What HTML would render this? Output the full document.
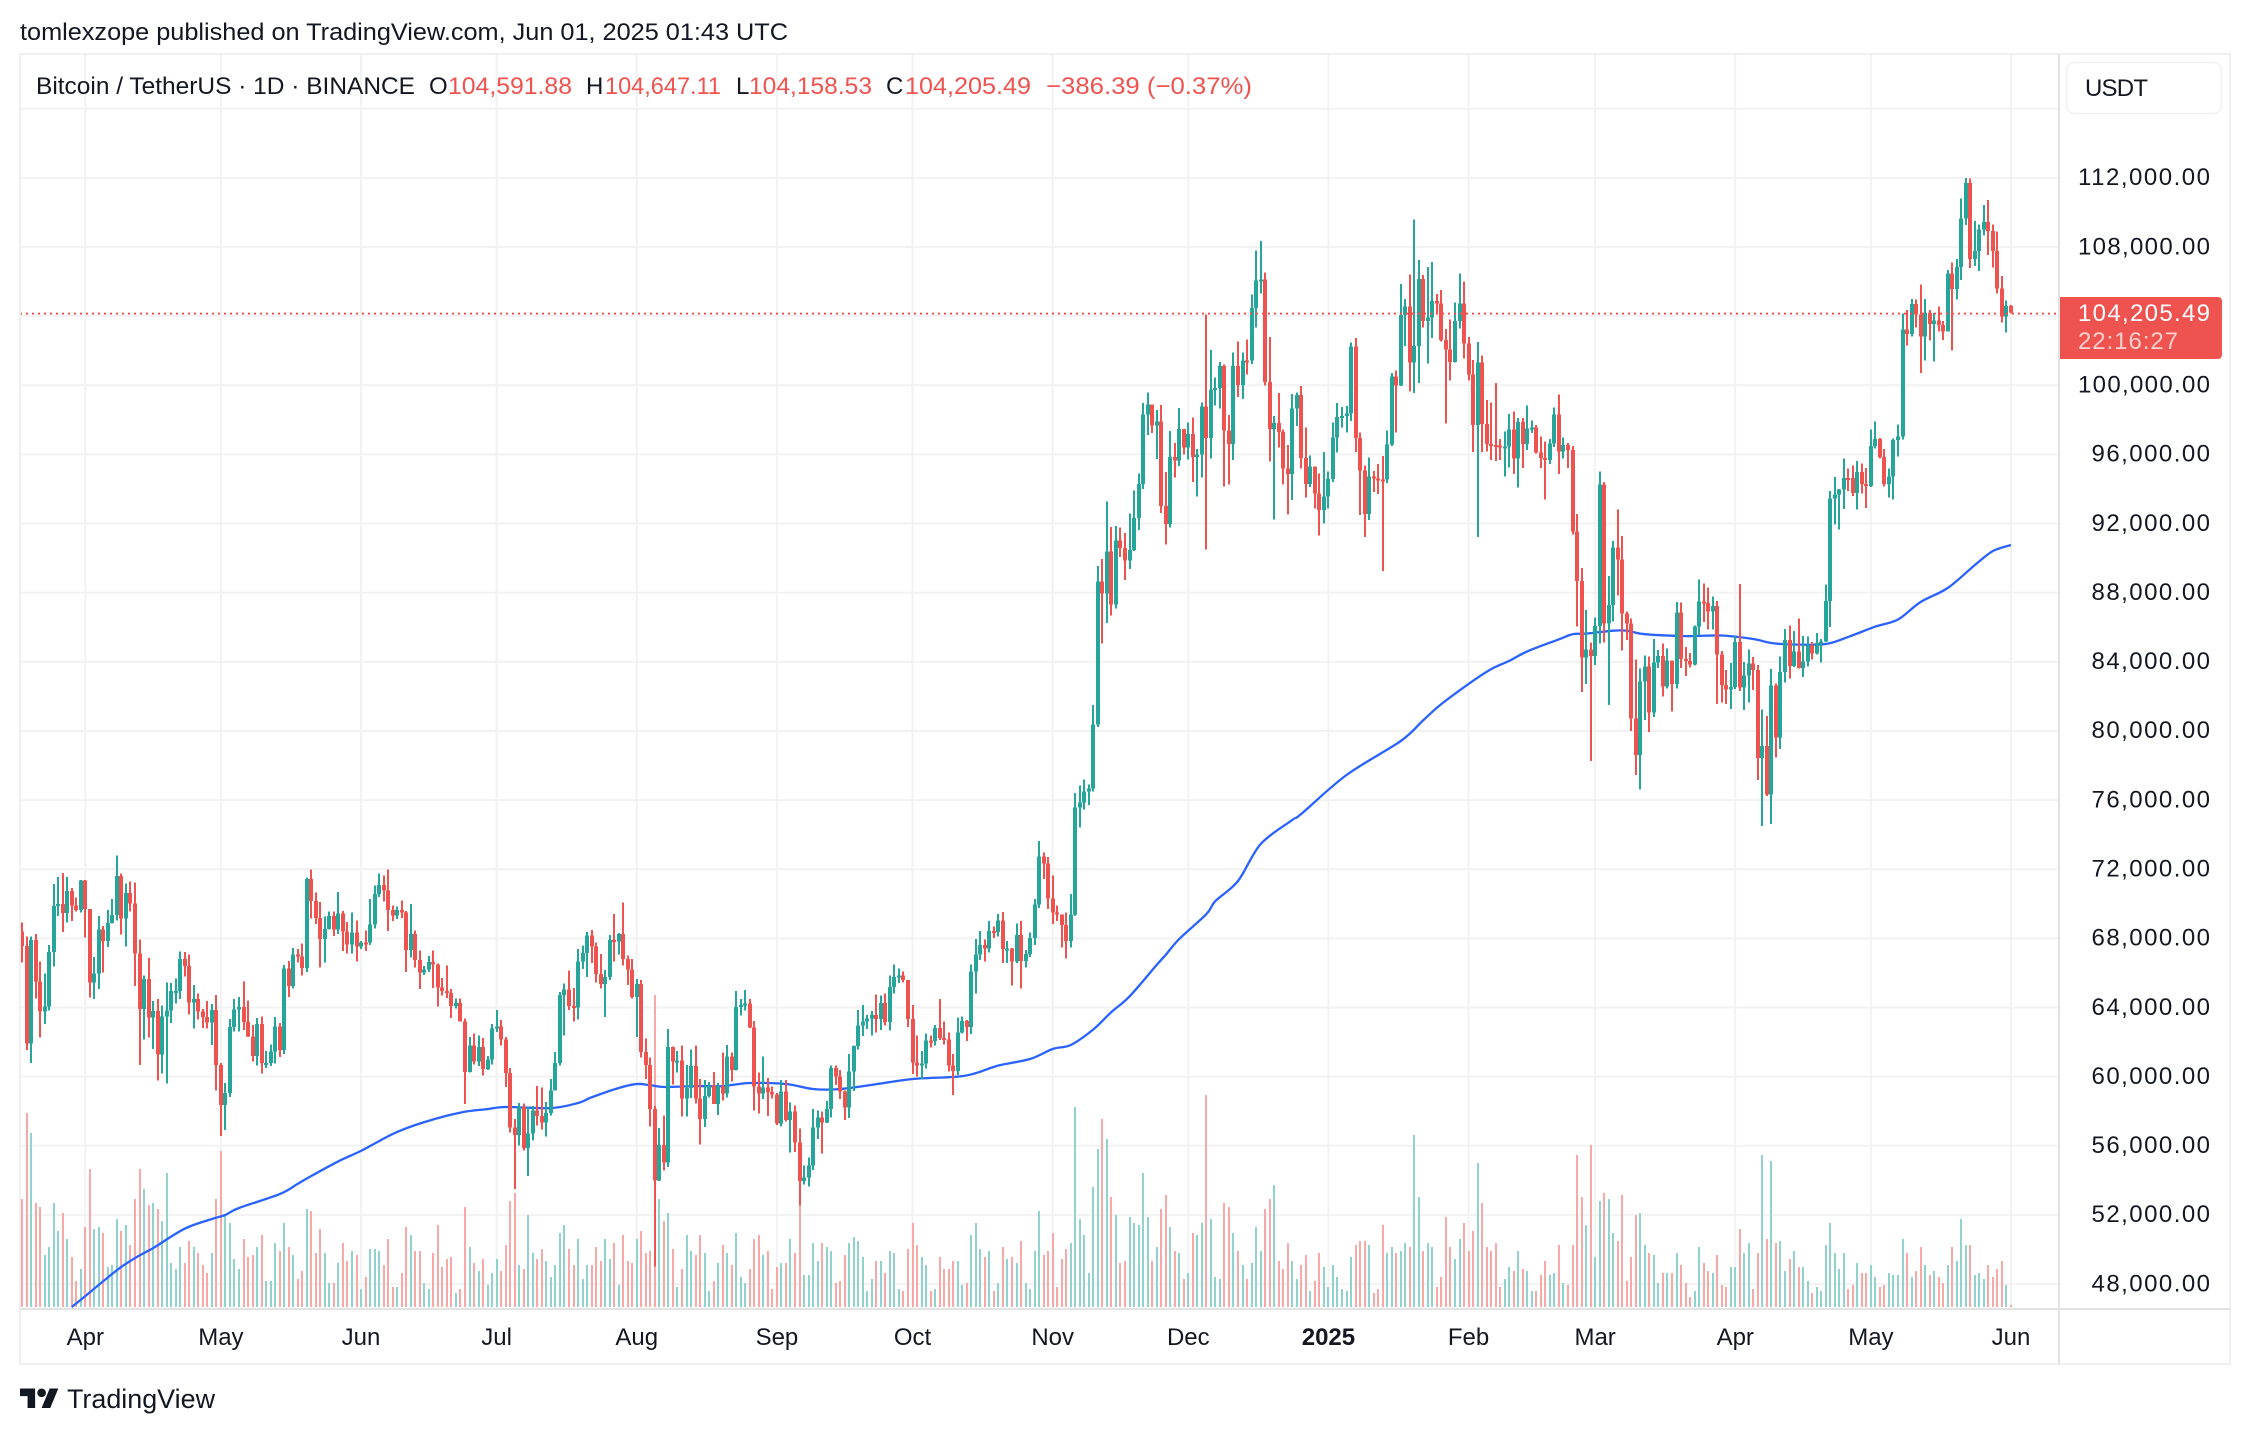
<!DOCTYPE html>
<html lang="en">
<head>
<meta charset="utf-8">
<title>Bitcoin / TetherUS daily chart</title>
<style>
html,body{margin:0;padding:0;background:#fff;}
svg{display:block;font-family:"Liberation Sans",Arial,sans-serif;}
</style>
</head>
<body>
<svg id="chart" xmlns="http://www.w3.org/2000/svg" width="2250" height="1434" viewBox="0 0 2250 1434">
  <rect x="0" y="0" width="2250" height="1434" fill="#ffffff"/>
  <g id="grid"></g>
  <g id="volumes"></g>
  <path id="ma" fill="none" stroke="#2962ff" stroke-width="2.3" stroke-linejoin="round"/>
  <g id="candles"></g>
  <line id="lastLine" x1="20" x2="2059" stroke="#ef5350" stroke-width="2" stroke-dasharray="2 4"/>

  <rect x="20" y="54" width="2210" height="1310" fill="none" stroke="#f0f0f0" stroke-width="2"/>
  <line x1="2059" y1="54" x2="2059" y2="1364" stroke="#e2e2e2" stroke-width="2"/>
  <line x1="20" y1="1309" x2="2230" y2="1309" stroke="#e2e2e2" stroke-width="2"/>

  <text x="20" y="40" font-size="24" fill="#131722" textLength="768" lengthAdjust="spacingAndGlyphs">tomlexzope published on TradingView.com, Jun 01, 2025 01:43 UTC</text>

  <g font-size="24">
    <text x="36" y="94" fill="#131722" textLength="379" lengthAdjust="spacingAndGlyphs">Bitcoin / TetherUS · 1D · BINANCE</text>
    <text x="429" y="94" fill="#131722">O</text>
    <text x="448" y="94" fill="#ef5350" textLength="124" lengthAdjust="spacingAndGlyphs">104,591.88</text>
    <text x="586" y="94" fill="#131722">H</text>
    <text x="605" y="94" fill="#ef5350" textLength="116" lengthAdjust="spacingAndGlyphs">104,647.11</text>
    <text x="736" y="94" fill="#131722">L</text>
    <text x="749" y="94" fill="#ef5350" textLength="123" lengthAdjust="spacingAndGlyphs">104,158.53</text>
    <text x="886" y="94" fill="#131722">C</text>
    <text x="905" y="94" fill="#ef5350" textLength="126" lengthAdjust="spacingAndGlyphs">104,205.49</text>
    <text x="1046" y="94" fill="#ef5350" textLength="206" lengthAdjust="spacingAndGlyphs">−386.39 (−0.37%)</text>
  </g>

  <g id="priceLabels"></g>
  <g id="timeLabels"></g>

  <rect x="2066.5" y="62.5" width="155" height="51" rx="8" fill="#ffffff" stroke="#f0f0f0" stroke-width="1.5"/>
  <text x="2085" y="96" font-size="24" fill="#131722" textLength="63" lengthAdjust="spacing">USDT</text>

  <path d="M2060 297H2218a4 4 0 0 1 4 4V355a4 4 0 0 1-4 4H2060Z" fill="#ef5350"/>
  <text id="lastPriceText" x="2078" y="321" font-size="24" fill="#ffffff" textLength="132" lengthAdjust="spacing"></text>
  <text x="2078" y="349" font-size="24" fill="#ffffff" fill-opacity="0.72" textLength="100" lengthAdjust="spacing">22:16:27</text>

  <g transform="translate(20 1384.2) scale(1.08)" fill="#131722">
    <path d="M14 22H7V11H0V4h14v18zM28 22h-8l7.5-18h8L28 22z"/>
    <circle cx="20" cy="8" r="4"/>
  </g>
  <text x="67" y="1408" font-size="27" fill="#131722" textLength="148" lengthAdjust="spacingAndGlyphs">TradingView</text>
</svg>

<script>
const startDate = Date.UTC(2024, 2, 18);

const opens = [
68390,67548,61912,67913,65491,63778,64062,67211,69880,69988,69455,70744,69892,69645,
71333,69702,65446,65980,68508,67837,68896,69360,71620,69146,70631,70006,67116,63924,65661,63419,63793,61277,63470,63818,64941,64941,66819,66414,64289,64498,63770,63461,63118,63866,
60672,58364,59060,62882,63892,64031,63161,62334,61187,63049,60792,60793,61448,62901,61552,66267,65231,67051,66940,66278,71446,70148,69166,67969,68549,69290,68507,69436,68398,67652,68352,
67540,67766,67765,68809,70567,71082,70757,69648,69310,69648,69508,67321,68243,66756,66011,66191,66636,66490,65146,64960,64828,64096,64252,63180,60277,61804,60864,61706,60427,60986,
62772,62899,62135,60208,57050,56628,58230,55857,56714,58050,57725,57339,57889,59204,60797,64724,65043,64087,63987,66660,67139,68165,67532,65936,65372,65777,67912,67813,68255,66819,66201,
64619,65357,61415,60680,58116,53991,56034,55027,61710,60880,60945,58719,59354,60609,58737,57560,58874,59491,58427,59438,59013,61156,60381,64037,64157,64220,62834,59415,59034,59359,59123,
58973,57301,59132,57487,57970,56180,53962,54160,54869,57042,57635,57338,58132,60498,59993,59132,58213,60309,61759,62947,63201,63348,63578,63339,64262,63152,65173,65769,65858,65602,
63327,60805,60649,60752,62086,62058,62819,62224,62160,60636,60326,62540,63206,62870,66083,67074,67620,67421,68428,68378,69031,67377,67426,66668,68199,66698,67092,68021,69962,72736,72344,
70292,69496,69374,68775,67850,69372,75571,75857,76509,76677,80370,88647,87952,90375,87325,91032,90587,89855,90464,92310,94286,98317,98892,97672,97900,93010,91965,95863,95643,97460,
96407,97185,95840,96000,98768,96952,99740,99831,101109,97395,96592,101125,100004,101424,101420,104463,106058,106133,100204,97461,97805,97292,95186,94881,98663,99429,95791,94299,95300,93738,92792,
93576,94591,96984,98174,98220,98363,102235,96954,95060,92552,94726,94599,94545,94536,96560,100497,99987,104077,104556,101331,102260,106143,103706,103910,104871,104746,102620,102082,101335,103733,104722,
102429,100635,97700,101328,97763,96612,96554,96506,96444,96462,97430,95778,97869,96608,97500,97569,96118,95780,95671,96644,98305,96181,96551,96258,91552,88680,84250,84708,
84349,86064,94270,86220,87281,90606,89931,86801,86222,80734,78600,82862,83722,81066,83969,84343,82579,84075,82718,86854,84167,84043,83832,86054,87498,87392,86909,87232,84424,82648,82389,
82550,85158,82516,83213,83889,83537,78430,79140,76322,82615,79607,83423,85276,83760,84591,83643,84030,84947,84474,85077,85179,87516,93442,93691,93980,94638,94630,93754,94978,94284,
94172,96489,96887,95856,94277,94733,96834,97032,103241,102970,104696,104106,102812,104169,103539,103744,103489,103126,106454,105573,106849,109643,111696,107318,107762,109004,109434,108938,107781,105589,103985,
104591.88];

const highs = [
68920,68106,68100,68240,66649,65976,67624,71150,71561,71769,71552,70916,70355,71366,
71366,69708,66914,69291,68725,69629,70284,72797,71758,71172,71293,71227,67932,65840,66867,64365,64499,64117,65450,65419,65666,67233,67200,67075,65297,64820,63923,64370,64215,64734,
60780,59625,63333,64494,64610,65500,64390,62986,63404,63469,61490,61849,63450,63099,66444,66697,67451,67387,67700,71515,71979,70666,70096,69250,69562,69562,70687,69591,68935,69500,69044,
67857,68460,70288,71063,71758,71625,71997,69914,69845,70195,69569,69999,68449,67294,66402,66983,67298,66550,65700,66438,65066,64525,64513,63370,62293,62480,62389,62225,61200,63058,
63861,63288,62285,60498,57546,58475,58449,58236,58296,59470,59359,58526,59850,61420,64900,65388,66128,65133,67386,67598,68366,68480,67750,67102,66175,68200,69399,68318,70079,67000,66810,
65659,65596,62198,61117,58305,57029,57737,62745,61744,61470,61800,60680,61572,61800,59847,59800,59700,60260,59617,61400,61820,61400,64955,64494,65000,64481,63212,60234,61166,59928,59432,
59062,59809,59809,58500,58327,57008,54850,55318,58120,58044,57981,58588,60648,60656,60395,59210,61320,61786,63850,64133,63559,63788,64745,64688,64817,65839,66498,66260,66076,65602,
64130,62390,61477,62484,62370,62975,64478,63200,62543,61321,63417,63480,63285,66500,67950,68424,67939,69000,68693,69400,69519,67836,67427,68850,69000,67317,68332,70270,73620,72961,72700,
71632,69914,69391,69500,70577,76400,76849,77199,76900,81500,89530,89956,93265,91790,91850,91779,91449,92594,93905,94902,98988,99588,98767,98564,98871,94973,97361,96650,98692,97463,
97836,98130,96306,99000,104088,102039,100439,101350,101215,98270,101895,102540,101895,102650,105250,107793,108353,106524,102800,98233,99540,97448,96539,99487,99569,99963,97544,95926,95200,94903,96150,
95000,97839,98976,98734,98813,102480,102724,97259,95349,95836,95050,95450,95900,97371,100700,100868,105865,104988,106422,109588,107240,106394,106850,107120,105286,105500,103260,103800,104782,106457,106012,
102783,101456,102500,101732,99149,99000,100137,96880,97323,98345,98478,98119,98112,98826,97972,97704,97046,96753,96899,98711,99475,96980,96650,96500,92540,89414,87000,85120,
86558,95000,94416,88967,91000,92810,91283,86897,86500,84123,83617,84358,84300,85309,84672,85051,84756,84075,87453,87443,84850,84513,86094,88765,88542,88292,87786,87515,84624,83534,83943,
85487,88500,83998,84720,84266,83817,81243,80867,83588,82753,84300,85905,86100,85785,86496,85500,85470,85132,85677,85320,88460,93888,94696,94000,95758,95199,95369,95630,95460,95228,
97437,97895,96936,96318,95199,96920,97732,104145,104361,104984,104972,105819,104990,104361,104192,104550,103707,106660,107108,107320,110797,111980,111970,109500,109313,110422,110718,109298,108891,106313,104900,
104647.11];

const lows = [
66600,61536,60775,64529,62260,63038,63821,66385,69280,68359,68903,69009,69564,69504,
68062,64586,64493,65064,66011,67491,68851,69043,68210,67518,69560,65254,60660,62134,62274,61600,59768,60171,59600,63090,64231,64500,65800,63589,62795,63297,62824,62781,61820,59191,
56552,56911,58811,62599,62600,62700,62300,60888,60648,60187,60492,60610,60749,61148,61320,64600,65107,66600,65857,66060,69162,68832,66312,66600,68500,68128,68250,67277,67124,67131,66670,
67386,67257,67612,68568,70383,70119,68420,69000,69129,69172,66051,66902,66304,65057,65870,66060,65130,64060,64693,64547,63379,63935,63178,58402,60239,60712,60606,60063,60383,60712,
62571,61806,59400,56771,53485,56018,55724,54260,56289,57157,56950,56542,57756,59204,60632,62373,63854,63200,63300,66222,65777,66574,65441,65111,63456,65600,66650,67066,66428,65302,64530,
62302,61100,59850,57122,49000,53962,54558,54767,59535,60242,57700,57688,58775,58433,56078,57098,58785,58408,57787,58610,58783,59724,60342,63531,63820,62800,58034,57860,58713,57712,58738,
57201,57120,57415,55606,55643,52550,53745,53629,54600,56386,55545,57324,57632,59517,58691,57493,57610,59174,61555,62350,62758,62380,62538,62700,62947,62670,64819,65422,65432,62856,
60164,60000,59828,60459,61689,61798,62128,61860,60301,58946,60087,62487,62050,62457,64800,66750,66666,67192,68010,68100,66571,66571,65260,66580,65089,66299,66913,67620,69760,71436,69685,
68820,69000,67478,66835,67458,69298,74416,75462,75714,76492,80216,85072,86247,86668,87073,90056,88722,89376,90402,91619,94013,97122,97232,95734,92600,90791,91778,94650,95333,96000,
95693,94395,93578,94660,90500,95770,98844,98657,94150,94256,95676,99311,99205,100610,101227,103332,105321,100000,95587,92232,96398,94250,92520,93365,97632,95199,93500,94110,92881,91317,92000,
92869,94392,96100,97562,97271,97920,96132,92500,91220,92206,93831,93711,89256,94346,96500,97272,99950,102277,99651,99550,100119,103339,101262,102750,104106,102520,97777,100272,101328,103282,101560,
100279,96150,91231,96150,96155,95676,95620,95688,94713,95256,94876,94088,95217,96252,97226,96046,95205,93388,95455,96415,94871,95770,95227,91370,86050,82256,82716,78258,
83824,85050,85117,81500,86334,87836,84667,85248,80000,77459,76606,80635,79939,80818,83639,81981,82456,81134,82444,83655,83175,83675,83794,85541,86310,85861,85858,81565,81644,81565,81278,
82432,82320,81211,81659,82377,77153,74508,76239,74620,78464,78969,82792,83034,83690,83600,83111,83736,84130,84414,83949,85143,86000,91935,91660,92855,93870,93602,92800,93742,92910,
94111,96350,95753,94130,93514,93377,95866,96876,102315,102818,103345,100718,101429,102602,101383,103100,102612,103105,102000,104972,106100,109285,106800,106900,106600,108660,107527,106812,105322,103621,103068,
104158.53];

const closes = [
67548,61912,67913,65491,63778,64062,67211,69880,69988,69455,70744,69892,69645,71333,
69702,65446,65980,68508,67837,68896,69360,71620,69146,70631,70006,67116,63924,65661,63419,63793,61277,63470,63818,64941,64941,66819,66414,64289,64498,63770,63461,63118,63866,60672,
58364,59060,62882,63892,64031,63161,62334,61187,63049,60792,60793,61448,62901,61552,66267,65231,67051,66940,66278,71446,70148,69166,67969,68549,69290,68507,69436,68398,67652,68352,67540,
67766,67765,68809,70567,71082,70757,69648,69310,69648,69508,67321,68243,66756,66011,66191,66636,66490,65146,64960,64828,64096,64252,63180,60277,61804,60864,61706,60427,60986,62772,
62899,62135,60208,57050,56628,58230,55857,56714,58050,57725,57339,57889,59204,60797,64724,65043,64087,63987,66660,67139,68165,67532,65936,65372,65777,67912,67813,68255,66819,66201,64619,
65357,61415,60680,58116,53991,56034,55027,61710,60880,60945,58719,59354,60609,58737,57560,58874,59491,58427,59438,59013,61156,60381,64037,64157,64220,62834,59415,59034,59359,59123,58973,
57301,59132,57487,57970,56180,53962,54160,54869,57042,57635,57338,58132,60498,59993,59132,58213,60309,61759,62947,63201,63348,63578,63339,64262,63152,65173,65769,65858,65602,63327,
60805,60649,60752,62086,62058,62819,62224,62160,60636,60326,62540,63206,62870,66083,67074,67620,67421,68428,68378,69031,67377,67426,66668,68199,66698,67092,68021,69962,72736,72344,70292,
69496,69374,68775,67850,69372,75571,75857,76509,76677,80370,88647,87952,90375,87325,91032,90587,89855,90464,92310,94286,98317,98892,97672,97900,93010,91965,95863,95643,97460,96407,
97185,95840,96000,98768,96952,99740,99831,101109,97395,96592,101125,100004,101424,101420,104463,106058,106133,100204,97461,97805,97292,95186,94881,98663,99429,95791,94299,95300,93738,92792,93576,
94591,96984,98174,98220,98363,102235,96954,95060,92552,94726,94599,94545,94536,96560,100497,99987,104077,104556,101331,102260,106143,103706,103910,104871,104746,102620,102082,101335,103733,104722,102429,
100635,97700,101328,97763,96612,96554,96506,96444,96462,97430,95778,97869,96608,97500,97569,96118,95780,95671,96644,98305,96181,96551,96258,91552,88680,84250,84708,84349,
86064,94270,86220,87281,90606,89931,86801,86222,80734,78600,82862,83722,81066,83969,84343,82579,84075,82718,86854,84167,84043,83832,86054,87498,87392,86909,87232,84424,82648,82389,82550,
85158,82516,83213,83889,83537,78430,79140,76322,82615,79607,83423,85276,83760,84591,83643,84030,84947,84474,85077,85179,87516,93442,93691,93980,94638,94630,93754,94978,94284,94172,
96489,96887,95856,94277,94733,96834,97032,103241,102970,104696,104106,102812,104169,103539,103744,103489,103126,106454,105573,106849,109643,111696,107318,107762,109004,109434,108938,107781,105589,103985,104591.88,
104205.49];

const volumes = [
54,97,87,52,50,26,30,52,38,47,34,25,13,19,
40,69,39,40,37,20,21,44,38,41,31,54,69,59,51,52,49,43,67,22,19,30,22,33,30,27,21,17,27,54,
78,46,42,24,19,34,25,26,30,36,13,13,32,28,42,30,26,14,18,49,48,27,39,27,12,12,22,32,23,28,26,
9,15,29,29,28,21,34,10,10,17,40,36,28,28,12,9,27,41,20,24,25,7,9,50,30,22,18,24,11,17,
24,18,31,53,57,21,19,46,27,24,29,23,15,21,37,41,29,21,34,14,21,21,30,23,34,24,32,11,36,23,22,
34,38,27,28,156,54,43,47,29,10,19,36,28,26,36,27,8,13,22,31,27,21,37,15,12,19,34,36,26,28,9,
20,22,22,34,27,52,16,16,32,23,32,30,28,12,13,26,32,35,33,25,8,14,23,23,17,28,27,9,8,29,
42,31,25,21,8,9,25,19,19,23,23,11,12,36,42,29,25,28,8,12,30,24,25,22,33,12,9,28,48,26,28,
37,10,24,29,32,100,44,36,17,60,79,94,84,55,46,22,23,45,42,41,67,45,23,30,49,56,40,28,27,14,
17,37,36,42,106,44,15,14,52,50,37,28,21,14,22,40,28,49,54,61,23,19,32,23,14,21,26,8,13,27,20,
10,21,15,9,8,25,31,33,33,31,7,9,41,27,30,27,28,32,30,86,55,28,32,30,10,15,45,30,24,34,42,
28,38,72,52,30,28,32,10,14,20,18,28,19,18,8,8,16,23,16,17,31,12,11,31,76,55,41,81,
25,53,57,54,37,33,56,13,25,46,47,31,27,26,12,17,17,17,27,21,12,5,8,30,22,18,17,26,11,10,20,
20,39,27,32,9,27,76,34,73,32,33,18,24,28,20,20,13,7,10,8,31,42,27,19,27,9,11,22,17,17,
21,15,10,11,17,16,16,34,27,15,18,30,21,16,18,15,12,21,30,23,44,31,31,16,17,14,21,15,19,23,11,
1];

const maDays = [11,14,21,25,29,36,42,45,48,57,61,64,70,75,79,83,89,97,103,107,117,123,126,132,136,139,142,149,155,161,169,175,181,190,197,207,211,216,223,228,232,237,241,245,251,253,256,262,264,269,274,281,283,293,305,310,314,320,325,329,333,340,343,346,352,355,359,368,376,383,387,392,399,404,410,415,420,426,432,436,440];
const maValues = [46670,47300,48800,49500,50080,51200,51760,52000,52400,53200,53800,54250,55100,55700,56270,56800,57370,57920,58120,58240,58180,58470,58800,59340,59570,59500,59400,59450,59450,59630,59570,59280,59280,59600,59860,60000,60200,60640,61020,61600,61830,62730,63740,64640,66460,67040,67960,69400,70160,71320,73450,74850,75200,77450,79420,80630,81560,82720,83580,84050,84600,85300,85600,85630,85800,85800,85600,85490,85520,85320,85090,85000,85030,85440,86040,86450,87460,88270,89600,90410,90760];

const priceTicks = [116000,112000,108000,104000,100000,96000,92000,88000,84000,80000,76000,72000,68000,64000,60000,56000,52000,48000];
const priceTickLabels = ["112,000.00","108,000.00","100,000.00","96,000.00","92,000.00","88,000.00","84,000.00","80,000.00","76,000.00","72,000.00","68,000.00","64,000.00","60,000.00","56,000.00","52,000.00","48,000.00"];
const monthDates = ["2024-04-01","2024-05-01","2024-06-01","2024-07-01","2024-08-01","2024-09-01","2024-10-01","2024-11-01","2024-12-01","2025-01-01","2025-02-01","2025-03-01","2025-04-01","2025-05-01","2025-06-01"];
const monthLabels = ["Apr","May","Jun","Jul","Aug","Sep","Oct","Nov","Dec","2025","Feb","Mar","Apr","May","Jun"];
const lastPrice = 104205.49;

const NS = "http://www.w3.org/2000/svg";
const xAt = i => 22 + i * 4.5205;
const yAt = p => 1284 - (p - 48000) * 0.017283;
const volHeight = v => v * 2;
const dayIndex = s => Math.round((Date.parse(s + "T00:00:00Z") - startDate) / 86400000);
const make = (parent, tag, props) => {
  const el = document.createElementNS(NS, tag);
  for (const k in props) el.setAttribute(k, props[k]);
  parent.appendChild(el);
  return el;
};
const labelValue = s => Number(s.replace(/,/g, ""));

const gridG = document.getElementById("grid");
priceTicks.forEach(p => {
  const el = make(gridG, "line", {x1: 20, x2: 2059, y1: yAt(p), y2: yAt(p), stroke: "#f2f2f2", "stroke-width": 2});
  
  
});
monthDates.forEach(d => {
  const x = xAt(dayIndex(d));
  const el = make(gridG, "line", {x1: x, x2: x, y1: 54, y2: 1309, stroke: "#f2f2f2", "stroke-width": 2});
  
  
});

const volG = document.getElementById("volumes");
volumes.forEach((v, i) => {
  const h = volHeight(v);
  const up = closes[i] >= opens[i];
  const el = make(volG, "rect", {x: Math.round(xAt(i)) - 1, y: 1307 - h, width: 2, height: h, fill: up ? "#92d2cc" : "#f7a9a7", "shape-rendering": "crispEdges"});
  
  
});

const maPts = maDays.map((d, i) => [xAt(d), Math.min(1307, yAt(maValues[i]))]);
let maPath = "M" + maPts[0][0].toFixed(1) + " " + maPts[0][1].toFixed(1);
for (let i = 0; i < maPts.length - 1; i++) {
  const p0 = maPts[Math.max(0, i - 1)];
  const p1 = maPts[i];
  const p2 = maPts[i + 1];
  const p3 = maPts[Math.min(maPts.length - 1, i + 2)];
  const c1x = p1[0] + (p2[0] - p0[0]) / 6;
  const c1y = p1[1] + (p2[1] - p0[1]) / 6;
  const c2x = p2[0] - (p3[0] - p1[0]) / 6;
  const c2y = p2[1] - (p3[1] - p1[1]) / 6;
  maPath += "C" + c1x.toFixed(1) + " " + c1y.toFixed(1) + " " + c2x.toFixed(1) + " " + c2y.toFixed(1) + " " + p2[0].toFixed(1) + " " + p2[1].toFixed(1);
}
document.getElementById("ma").setAttribute("d", maPath);

const candleG = document.getElementById("candles");
closes.forEach((c, i) => {
  const o = opens[i];
  const x = Math.round(xAt(i));
  const color = c >= o ? "#26a69a" : "#ef5350";
  const g = make(candleG, "g", {fill: color, "shape-rendering": "crispEdges"});
  
  
  const yHigh = yAt(highs[i]);
  const yLow = yAt(lows[i]);
  make(g, "rect", {x: x - 1, y: yHigh, width: 2, height: Math.max(1, yLow - yHigh)});
  const yTop = yAt(Math.max(o, c));
  const yBot = yAt(Math.min(o, c));
  make(g, "rect", {x: x - 2, y: yTop, width: 4, height: Math.max(2, yBot - yTop)});
});

const lastLine = document.getElementById("lastLine");
lastLine.setAttribute("y1", yAt(lastPrice) + 1);
lastLine.setAttribute("y2", yAt(lastPrice) + 1);
document.getElementById("lastPriceText").textContent = lastPrice.toLocaleString("en-US", {minimumFractionDigits: 2});

const priceG = document.getElementById("priceLabels");
priceTickLabels.forEach(s => {
  const len = s.length === 10 ? 132 : 118.5;
  const t = make(priceG, "text", {x: 2210, y: yAt(labelValue(s)) + 7.3, "font-size": 24, fill: "#131722", "text-anchor": "end", textLength: len, lengthAdjust: "spacing"});
  
  
  t.textContent = s;
});

const timeG = document.getElementById("timeLabels");
monthLabels.forEach((s, i) => {
  const bold = s === "2025";
  const t = make(timeG, "text", {x: xAt(dayIndex(monthDates[i])), y: 1345, "font-size": 24, "font-weight": bold ? 700 : 400, fill: "#131722", "text-anchor": "middle"});
  
  
  t.textContent = s;
});
</script>
</body>
</html>
